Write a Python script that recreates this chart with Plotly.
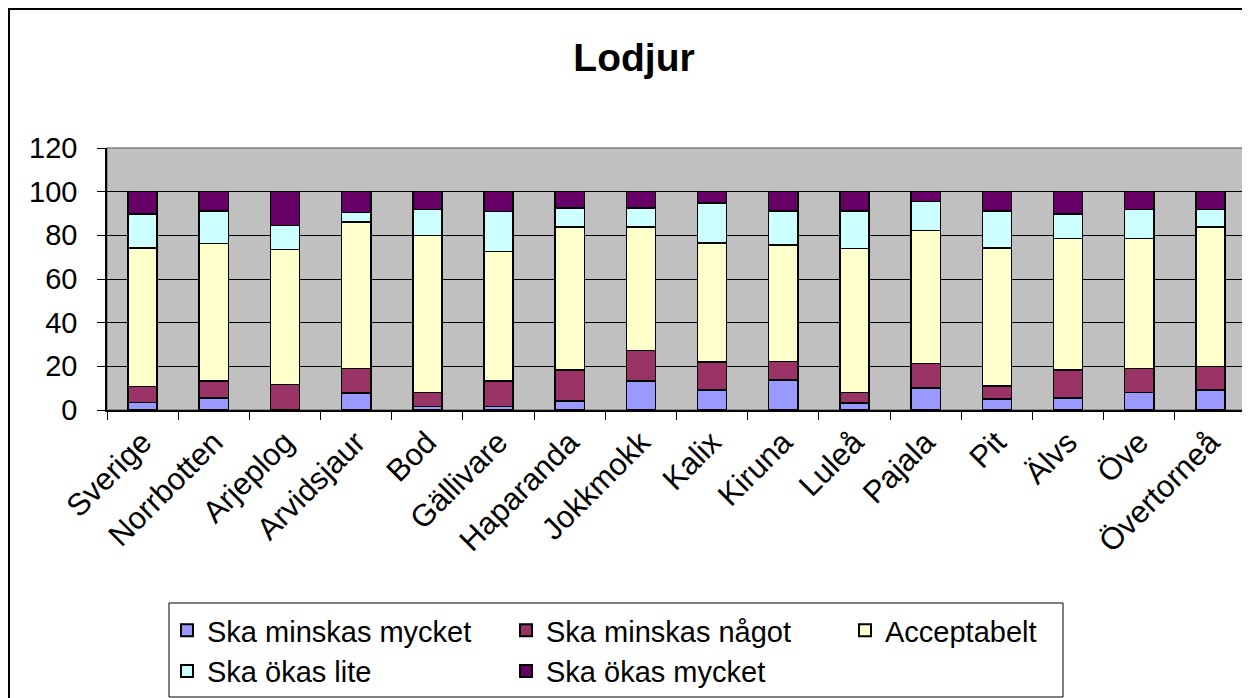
import plotly.graph_objects as go

categories = ["Sverige", "Norrbotten", "Arjeplog", "Arvidsjaur", "Bod", "Gällivare",
              "Haparanda", "Jokkmokk", "Kalix", "Kiruna", "Luleå", "Pajala", "Pit",
              "Älvs", "Öve", "Övertorneå"]

minskas_mycket = [3.4, 5.5, 0.0, 7.8, 1.7, 1.7, 4.1, 13.2, 9.2, 13.8, 3.2, 10.0, 5.1, 5.5, 8.0, 9.2]
minskas_nagot  = [7.3, 7.7, 11.6, 11.2, 6.4, 11.5, 14.3, 14.1, 12.9, 8.4, 4.8, 11.3, 5.8, 12.9, 11.1, 10.7]
acceptabelt    = [63.4, 63.1, 61.8, 67.1, 71.8, 59.5, 65.4, 56.5, 54.3, 53.3, 66.0, 60.9, 63.2, 60.2, 59.5, 63.9]
okas_lite      = [15.6, 14.8, 11.0, 4.4, 12.0, 18.3, 8.7, 8.7, 18.4, 15.6, 17.1, 13.4, 17.0, 11.1, 13.3, 8.1]
okas_mycket    = [10.3, 8.9, 15.6, 9.5, 8.1, 9.0, 7.5, 7.5, 5.2, 8.9, 8.9, 4.4, 8.9, 10.3, 8.1, 8.1]

series_names = ["Ska minskas mycket", "Ska minskas något", "Acceptabelt",
                "Ska ökas lite", "Ska ökas mycket"]
series_values = [minskas_mycket, minskas_nagot, acceptabelt, okas_lite, okas_mycket]
series_colors = ["#9999FF", "#993366", "#FFFFCC", "#CCFFFF", "#660066"]

y_ticks = [0, 20, 40, 60, 80, 100, 120]

FONT = "Liberation Sans, Arial, sans-serif"

fig = go.Figure()
for name, vals, col in zip(series_names, series_values, series_colors):
    fig.add_trace(go.Bar(
        x=categories, y=vals, name=name,
        marker=dict(color=col, line=dict(color="black", width=1.5)),
    ))

# the page has an 8px body margin, so figure coords = page coords - 8
W, H = 1242, 690
L, R, T, B = 99, 4, 140, 288
pw = W - L - R
ph = H - T - B

def px_to_paper_x(px):
    return (px - L) / pw

def px_to_paper_y(py):
    return (H - B - py) / ph

fig.update_layout(
    width=W, height=H,
    barmode="stack",
    bargap=0.59,
    paper_bgcolor="white",
    plot_bgcolor="#C0C0C0",
    margin=dict(l=L, r=R, t=T, b=B, autoexpand=False),
    font=dict(family=FONT, color="black", size=27),
    title=dict(text="<b>Lodjur</b>", x=626 / W, xref="container", xanchor="center",
               y=1 - 49 / H, yref="container", yanchor="middle",
               font=dict(family=FONT, size=39, color="black")),
    xaxis=dict(
        type="category",
        tickangle=-45,
        showline=True, linecolor="black", linewidth=1.5,
        ticks="outside", tickson="boundaries", ticklen=8, tickcolor="black",
        showgrid=False, mirror=False,
        tickfont=dict(family=FONT, size=31, color="black"),
    ),
    yaxis=dict(
        range=[0, 120],
        tickvals=y_ticks,
        showline=True, linecolor="black", linewidth=1.5,
        ticks="outside", ticklen=8, tickcolor="black",
        showgrid=True, gridcolor="black", gridwidth=1,
        zeroline=False,
        tickfont=dict(family=FONT, size=29, color="black"),
        ticklabelstandoff=14,
    ),
    showlegend=True,
    legend=dict(
        orientation="h",
        x=px_to_paper_x(159), xanchor="left",
        y=px_to_paper_y(597), yanchor="top",
        borderwidth=0, bgcolor="rgba(0,0,0,0)",
        font=dict(family=FONT, size=29, color="black"),
        entrywidth=294, entrywidthmode="pixels",
        traceorder="normal",
        itemsizing="constant",
    ),
    shapes=[
        # outer chart frame
        dict(type="rect", xref="paper", yref="paper",
             x0=px_to_paper_x(1), x1=px_to_paper_x(1240),
             y0=px_to_paper_y(700), y1=px_to_paper_y(1),
             line=dict(color="black", width=2), fillcolor="rgba(0,0,0,0)", layer="below"),
        # plot area border (gray)
        dict(type="rect", xref="paper", yref="paper", x0=0, x1=1, y0=0, y1=1,
             line=dict(color="#808080", width=1.5), fillcolor="rgba(0,0,0,0)", layer="below"),
        # legend frame
        dict(type="rect", xref="paper", yref="paper",
             x0=px_to_paper_x(161), x1=px_to_paper_x(1055),
             y0=px_to_paper_y(689), y1=px_to_paper_y(595),
             line=dict(color="black", width=1), fillcolor="rgba(0,0,0,0)", layer="below"),
    ],
)

fig.write_html("out.html")
